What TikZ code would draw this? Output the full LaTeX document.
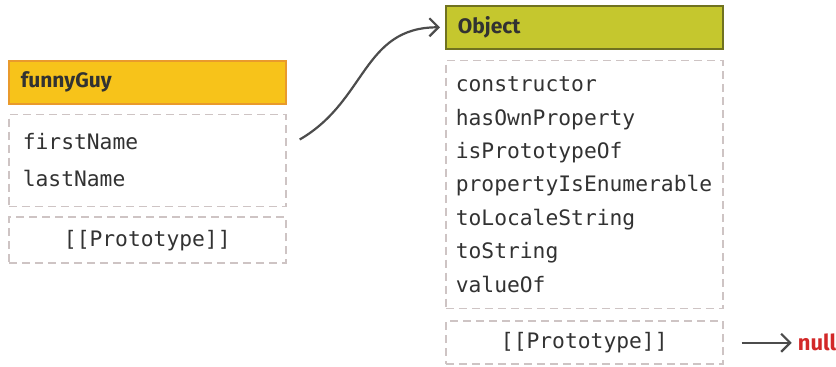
\documentclass[tikz,border=0pt]{standalone}
\usepackage{fontspec}
\setmainfont{Fira Sans}
\setmonofont{DejaVu Sans Mono}
\usetikzlibrary{positioning,arrows.meta}

\definecolor{gold}{RGB}{247,195,26}
\definecolor{goldline}{RGB}{233,154,44}
\definecolor{olive}{RGB}{197,199,46}
\definecolor{oliveline}{RGB}{112,114,32}
\definecolor{dashgray}{RGB}{206,196,196}
\definecolor{textgray}{RGB}{50,50,50}
\definecolor{nullred}{RGB}{210,40,40}

\tikzset{
	header/.style = {draw, line width=1.6pt, minimum width=277pt, minimum height=43pt,
		inner xsep=12pt, text width=253pt, align=left, text=textgray,
		font=\fontsize{21}{25}\selectfont\rmfamily\bfseries},
	propbox/.style = {draw=dashgray, line width=1.8pt, dash pattern=on 8pt off 5pt,
		minimum width=277pt, inner xsep=14pt, text width=249pt, align=left, text=textgray},
	protobox/.style = {propbox, minimum height=46pt, align=center},
	link/.style = {draw=black!70, line width=2.2pt, -{Straight Barb[length=9pt,width=18pt]}}
}

\begin{document}
\begin{tikzpicture}[x=1pt, y=-1pt]
	\useasboundingbox (0,0) rectangle (836,367);
	% funnyGuy
	\node [header, fill=gold, draw=goldline, anchor=north west] (funnyguy) at (8,60) {funnyGuy};
	\node [propbox, minimum height=92pt, below=9pt of funnyguy,
		font=\fontsize{21.3}{37}\selectfont\ttfamily] (fgprops) {firstName\\lastName};
	\node [protobox, below=9pt of fgprops, font=\fontsize{21.3}{25}\selectfont\ttfamily] (fgproto) {[[Prototype]]};
	% Object
	\node [header, fill=olive, draw=oliveline, anchor=north west] (object) at (445,5) {Object};
	\node [propbox, minimum height=248pt, below=10pt of object, inner xsep=10pt, text width=257pt,
		font=\fontsize{21.3}{33.4}\selectfont\ttfamily] (objprops)
		{constructor\\hasOwnProperty\\isPrototypeOf\\propertyIsEnumerable\\toLocaleString\\toString\\valueOf};
	\node [protobox, minimum height=43pt, below=11pt of objprops, font=\fontsize{21.3}{25}\selectfont\ttfamily] (objproto) {[[Prototype]]};
	\node [text=nullred, anchor=west, inner sep=0pt, font=\fontsize{22}{26}\selectfont\rmfamily\bfseries] (null)
		at ([xshift=74pt]objproto.east) {null};
	% links
	\draw [link] ([xshift=13pt,yshift=21pt]fgprops.east) to [out=30, in=180, looseness=1.1] ([xshift=-5pt]object.west);
	\draw [link] ([xshift=18pt]objproto.east) -- ([xshift=-6pt]null.west);
\end{tikzpicture}
\end{document}
